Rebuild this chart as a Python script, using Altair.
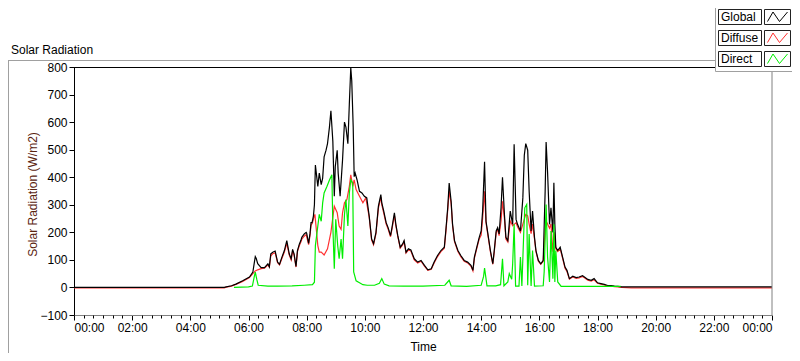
import altair as alt
import pandas as pd

# ---------------- data ----------------
global_times = ["00:00", "05:10", "05:14", "05:25", "05:34", "05:48", "06:02", "06:09", "06:12", "06:14",
    "06:16", "06:19", "06:26", "06:33", "06:40", "06:43", "06:46", "06:50", "06:55", "07:00",
    "07:04", "07:09", "07:14", "07:19", "07:24", "07:28", "07:31", "07:34", "07:38", "07:41",
    "07:45", "07:48", "07:50", "07:55", "07:59", "08:00", "08:04", "08:07", "08:09", "08:11",
    "08:12", "08:14", "08:16", "08:18", "08:23", "08:26", "08:30", "08:33", "08:36", "08:40",
    "08:43", "08:47", "08:50", "08:54", "08:57", "08:59", "09:03", "09:05", "09:09", "09:14",
    "09:18", "09:21", "09:25", "09:28", "09:31", "09:33", "09:36", "09:38", "09:40", "09:44",
    "09:49", "09:54", "09:59", "10:04", "10:09", "10:14", "10:18", "10:23", "10:28", "10:33",
    "10:35", "10:39", "10:44", "10:48", "10:53", "10:56", "11:01", "11:04", "11:08", "11:13",
    "11:18", "11:21", "11:25", "11:30", "11:35", "11:42", "11:49", "11:56", "12:03", "12:10",
    "12:17", "12:23", "12:30", "12:37", "12:44", "12:47", "12:51", "12:54", "12:58", "13:01",
    "13:05", "13:12", "13:18", "13:25", "13:32", "13:39", "13:43", "13:46", "13:51", "13:56",
    "14:00", "14:03", "14:07", "14:10", "14:13", "14:19", "14:24", "14:27", "14:31", "14:34",
    "14:37", "14:41", "14:44", "14:48", "14:51", "14:55", "15:00", "15:05", "15:08", "15:12",
    "15:15", "15:21", "15:26", "15:29", "15:32", "15:36", "15:39", "15:43", "15:46", "15:50",
    "15:53", "15:58", "16:03", "16:08", "16:12", "16:14", "16:17", "16:21", "16:24", "16:28",
    "16:30", "16:32", "16:34", "16:38", "16:43", "16:48", "16:53", "16:57", "17:02", "17:09",
    "17:16", "17:22", "17:29", "17:33", "17:40", "17:47", "17:53", "18:00", "18:07", "18:14",
    "18:21", "18:28", "18:35", "18:42", "18:50", "24:00"]
global_values = [0, 0, 2, 6, 12, 24, 38, 56, 90, 112,
    105, 86, 72, 72, 86, 75, 122, 128, 132, 92,
    84, 110, 134, 170, 122, 104, 138, 122, 76, 134,
    158, 170, 182, 194, 200, 197, 160, 197, 235, 235,
    242, 260, 300, 444, 367, 415, 373, 397, 474, 498,
    522, 582, 641, 530, 331, 438, 498, 415, 331, 462,
    600, 582, 522, 665, 797, 750, 582, 402, 415, 390,
    349, 343, 331, 325, 259, 176, 159, 200, 295, 337,
    307, 277, 235, 217, 188, 217, 271, 229, 188, 146,
    158, 170, 128, 140, 136, 104, 92, 98, 80, 64,
    68, 92, 116, 134, 146, 205, 289, 379, 313, 229,
    170, 134, 116, 98, 92, 80, 62, 110, 146, 182,
    205, 277, 456, 240, 205, 134, 86, 134, 205, 217,
    194, 289, 400, 265, 182, 170, 277, 229, 520, 247,
    229, 205, 325, 480, 522, 498, 349, 205, 277, 182,
    134, 98, 86, 98, 349, 528, 418, 229, 289, 200,
    380, 229, 146, 134, 146, 110, 74, 62, 32, 41,
    36, 38, 43, 38, 29, 26, 32, 17, 14, 11,
    7, 7, 5, 4, 2, 2]

diffuse_times = ["00:00", "05:10", "05:14", "05:25", "05:34", "05:48", "06:02", "06:09", "06:14", "06:19",
    "06:26", "06:33", "06:40", "06:43", "06:46", "06:50", "06:55", "07:00", "07:04", "07:09",
    "07:14", "07:19", "07:24", "07:28", "07:31", "07:34", "07:38", "07:41", "07:45", "07:48",
    "07:50", "07:55", "07:59", "08:04", "08:07", "08:09", "08:12", "08:14", "08:17", "08:23",
    "08:26", "08:30", "08:36", "08:43", "08:50", "08:57", "09:03", "09:07", "09:11", "09:14",
    "09:18", "09:23", "09:28", "09:31", "09:35", "09:38", "09:42", "09:49", "09:56", "10:02",
    "10:09", "10:14", "10:18", "10:23", "10:28", "10:33", "10:35", "10:39", "10:44", "10:48",
    "10:53", "10:56", "11:01", "11:04", "11:08", "11:13", "11:18", "11:21", "11:25", "11:30",
    "11:35", "11:42", "11:49", "11:56", "12:03", "12:10", "12:17", "12:23", "12:30", "12:37",
    "12:44", "12:47", "12:51", "12:54", "12:58", "13:01", "13:05", "13:12", "13:18", "13:25",
    "13:32", "13:39", "13:43", "13:46", "13:51", "13:56", "14:00", "14:03", "14:07", "14:10",
    "14:13", "14:19", "14:24", "14:27", "14:31", "14:34", "14:37", "14:41", "14:44", "14:48",
    "14:51", "14:55", "15:00", "15:05", "15:08", "15:12", "15:15", "15:21", "15:26", "15:32",
    "15:36", "15:39", "15:43", "15:46", "15:50", "15:53", "15:58", "16:03", "16:08", "16:12",
    "16:14", "16:17", "16:21", "16:24", "16:28", "16:31", "16:34", "16:38", "16:43", "16:48",
    "16:53", "16:57", "17:02", "17:09", "17:16", "17:22", "17:29", "17:33", "17:40", "17:47",
    "17:53", "18:00", "18:07", "18:14", "18:21", "18:28", "18:35", "18:42", "18:50", "19:10",
    "24:00"]
diffuse_values = [-1.5, -1.5, 1, 5, 11, 22, 36, 50, 60, 64,
    68, 70, 82, 74, 115, 122, 126, 90, 82, 106,
    128, 160, 118, 100, 132, 118, 74, 130, 152, 165,
    175, 186, 192, 155, 190, 225, 235, 250, 265, 152,
    128, 128, 118, 140, 200, 295, 271, 223, 211, 271,
    307, 319, 367, 409, 367, 390, 355, 331, 307, 325,
    255, 172, 155, 195, 288, 328, 300, 270, 230, 212,
    184, 212, 262, 224, 184, 143, 154, 166, 125, 136,
    132, 100, 89, 95, 77, 62, 66, 89, 112, 130,
    142, 198, 280, 350, 305, 224, 166, 130, 112, 95,
    89, 77, 60, 106, 142, 176, 190, 250, 349, 235,
    200, 130, 84, 128, 200, 210, 188, 241, 313, 250,
    176, 165, 241, 224, 229, 235, 220, 200, 230, 265,
    260, 230, 195, 230, 176, 130, 95, 84, 95, 210,
    241, 230, 215, 230, 130, 200, 140, 130, 140, 106,
    70, 58, 30, 38, 33, 35, 40, 35, 26, 23,
    28, 15, 12, 9, 5, 5, 3, 2, 0, -1.5,
    -1.5]

direct_times = ["05:30", "06:00", "06:08", "06:12", "06:14", "06:17", "06:20", "06:40", "07:00", "07:30",
    "07:55", "08:12", "08:16", "08:18", "08:23", "08:26", "08:30", "08:33", "08:36", "08:42",
    "08:47", "08:52", "08:54", "08:57", "09:00", "09:04", "09:07", "09:11", "09:14", "09:18",
    "09:21", "09:25", "09:28", "09:31", "09:35", "09:37", "09:42", "09:49", "09:56", "10:05",
    "10:20", "10:30", "10:35", "10:40", "10:50", "11:20", "12:00", "12:45", "12:54", "12:58",
    "13:30", "14:00", "14:05", "14:07", "14:09", "14:12", "14:30", "14:40", "14:44", "14:47",
    "14:55", "14:58", "15:03", "15:05", "15:08", "15:11", "15:18", "15:21", "15:24", "15:28",
    "15:30", "15:34", "15:36", "15:39", "15:43", "15:46", "15:50", "16:08", "16:10", "16:14",
    "16:17", "16:21", "16:24", "16:28", "16:30", "16:32", "16:34", "16:38", "16:45", "17:30",
    "18:48"]
direct_values = [0, 2, 5, 40, 56, 30, 8, 5, 5, 6,
    8, 10, 19, 152, 223, 265, 240, 307, 343, 367,
    390, 409, 223, 68, 247, 152, 104, 176, 104, 265,
    319, 223, 343, 390, 378, 56, 24, 17, 10, 8,
    8, 15, 32, 12, 6, 5, 5, 8, 26, 6,
    4, 8, 40, 70, 45, 6, 6, 10, 104, 6,
    20, 50, 30, 86, 229, 5, 5, 110, 5, 205,
    289, 301, 8, 194, 5, 134, 5, 6, 57, 301,
    110, 20, 205, 32, 229, 20, 134, 20, 4, 4,
    4]

series_names = ["Global", "Diffuse", "Direct"]
series_colors = ["#000000", "#ff3030", "#00ee00"]

x_tick_hours = list(range(0, 25, 2))
y_tick_values = list(range(-100, 801, 100))

# ---------------- build ----------------
FONT = "Liberation Sans"
W, H = 698, 248
PAD_TOP = 59


def to_hours(t):
    h, m = t.split(":")
    return int(h) + int(m) / 60.0


def frame(times, values, name):
    return pd.DataFrame({"hour": [to_hours(t) for t in times], "value": values, "series": name})


df_global = frame(global_times, global_values, "Global")
df_diffuse = frame(diffuse_times, diffuse_values, "Diffuse")
df_direct = frame(direct_times, direct_values, "Direct")

x_scale = alt.Scale(domain=[0, 24], nice=False, zero=False)
y_scale = alt.Scale(domain=[-100, 800], nice=False, zero=False)

major_axis = alt.Axis(
    values=x_tick_hours, orient="bottom",
    labelExpr="(datum.value % 24 < 10 ? '0' : '') + (datum.value % 24) + ':00'",
    tickSize=5, tickColor="#000000", domainColor="#808080", grid=False,
    labelFont=FONT, labelFontSize=12, labelColor="#000000", labelPadding=2,
    title="Time", titleFont=FONT, titleFontSize=12, titleFontWeight="normal", titleColor="#000000",
    titleY=35, titleBaseline="alphabetic",
)
minor_axis = alt.Axis(
    values=[i / 3 for i in range(73) if i % 6 != 0], orient="bottom",
    labels=False, domain=False, grid=False, tickSize=3, tickColor="#000000", title=None,
)
y_axis = alt.Axis(
    values=y_tick_values, tickSize=5, tickColor="#000000", domainColor="#000000", grid=False,
    labelFont=FONT, labelFontSize=12, labelColor="#000000", labelPadding=2,
    title="Solar Radiation (W/m2)", titleFont=FONT, titleFontSize=12, titleFontWeight="normal",
    titleColor="#5a2410", titleAngle=270, titleX=-42, titleY=H / 2 + 3,
    titleAlign="center", titleBaseline="middle",
)


def line_layer(df, color, xaxis):
    return alt.Chart(df).mark_line(color=color, strokeWidth=1.2, interpolate="linear").encode(
        x=alt.X("hour:Q", scale=x_scale, axis=xaxis),
        y=alt.Y("value:Q", scale=y_scale, axis=y_axis),
        order="hour:Q",
    )


one = pd.DataFrame({"k": [0]})

layers = [
    line_layer(df_diffuse, series_colors[1], major_axis),
    line_layer(df_global, series_colors[0], minor_axis),
    line_layer(df_direct, series_colors[2], None),
    # plot frame: top black, right gray
    alt.Chart(one).mark_rule(color="#000000", strokeWidth=1).encode(
        x=alt.value(0), x2=alt.value(W), y=alt.value(0.5)),
    alt.Chart(one).mark_rule(color="#808080", strokeWidth=1).encode(
        x=alt.value(W), y=alt.value(0), y2=alt.value(H)),
    # outer panel frame
    alt.Chart(one).mark_rule(color="#a0a0a0", strokeWidth=1).encode(
        x=alt.value(-66), x2=alt.value(641), y=alt.value(-6.5)),
    alt.Chart(one).mark_rule(color="#a0a0a0", strokeWidth=1).encode(
        x=alt.value(-65.5), y=alt.value(-6.5), y2=alt.value(H + 45)),
    # chart caption
    alt.Chart(one).mark_text(align="left", baseline="middle", font=FONT, fontSize=12, color="#000000").encode(
        x=alt.value(-63), y=alt.value(-17), text=alt.value("Solar Radiation")),
    # legend panel
    alt.Chart(one).mark_rect(fill="#ffffff", stroke="#a0a0a0", strokeWidth=1).encode(
        x=alt.value(641.5), x2=alt.value(730), y=alt.value(-70), y2=alt.value(4.5)),
]

box_tops = [-58, -37, -16]
for name, color, top in zip(series_names, series_colors, box_tops):
    layers.append(alt.Chart(one).mark_rect(fill="#ffffff", stroke="#222222", strokeWidth=1).encode(
        x=alt.value(644.5), x2=alt.value(687.5), y=alt.value(top + 0.5), y2=alt.value(top + 15.5)))
    layers.append(alt.Chart(one).mark_rect(fill="#ffffff", stroke="#222222", strokeWidth=1).encode(
        x=alt.value(690.5), x2=alt.value(716.5), y=alt.value(top + 0.5), y2=alt.value(top + 15.5)))
    layers.append(alt.Chart(one).mark_text(align="left", baseline="middle", font=FONT, fontSize=12,
                                            color="#000000").encode(
        x=alt.value(647), y=alt.value(top + 8), text=alt.value(name)))
    layers.append(alt.Chart(one).mark_point(
        shape="M-1,0.45L-0.45,-0.5L0.2,0.45L1,-0.5", filled=False, stroke=color, strokeWidth=1,
        size=400, opacity=1).encode(x=alt.value(703.5), y=alt.value(top + 8)))

chart = alt.layer(*layers).resolve_axis(x="independent").properties(
    width=W, height=H,
    autosize=alt.AutoSizeParams(type="none"),
    padding={"left": 66, "top": PAD_TOP, "right": 20, "bottom": 345 - PAD_TOP - H},
    background="#ffffff",
).configure_view(strokeWidth=0)

chart.save("out.html", embed_options={"renderer": "svg", "actions": False})
